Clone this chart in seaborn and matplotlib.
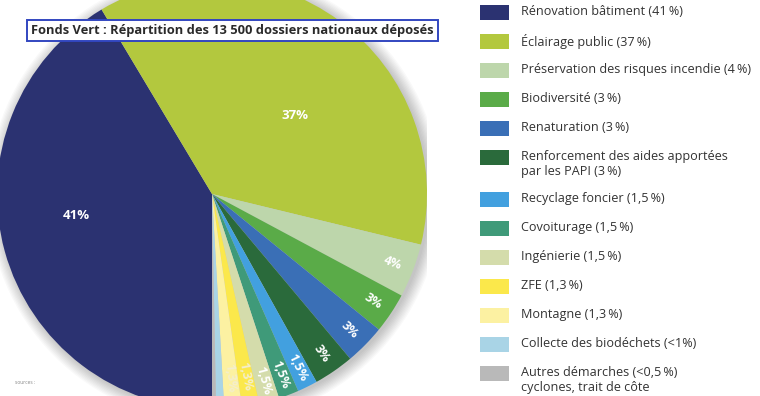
import matplotlib.pyplot as plt
import numpy as np
import seaborn as sns
from matplotlib.patches import Circle, Rectangle

# Fonds Vert: share of the 13 500 national applications
categories = [
    "Rénovation bâtiment (41\u2009%)",
    "Éclairage public (37\u2009%)",
    "Préservation des risques incendie (4\u2009%)",
    "Biodiversité (3\u2009%)",
    "Renaturation (3\u2009%)",
    "Renforcement des aides apportées\npar les PAPI (3\u2009%)",
    "Recyclage foncier (1,5\u2009%)",
    "Covoiturage (1,5\u2009%)",
    "Ingénierie (1,5\u2009%)",
    "ZFE (1,3\u2009%)",
    "Montagne (1,3\u2009%)",
    "Collecte des biodéchets (<1%)",
    "Autres démarches (<0,5\u2009%)\ncyclones, trait de côte",
]
shares = [41, 37, 4, 3, 3, 3, 1.5, 1.5, 1.5, 1.3, 1.3, 0.6, 0.3]
pct_labels = ["41%", "37%", "4%", "3%", "3%", "3%", "1,5%", "1,5%", "1,5%",
              "1,3%", "1,3%", "", ""]
colors = ["#2b3271", "#b3c83e", "#bdd6ab", "#5aab48", "#3a6fb6", "#2a6a3b",
          "#42a0df", "#3f9a79", "#d4dcab", "#fbe84b", "#fcf1a2", "#a9d4e6",
          "#b9b9b9"]

sns.set_theme(style="white")
plt.rcParams["font.family"] = ["Open Sans", "DejaVu Sans"]

W, H = 760, 396
fig = plt.figure(figsize=(W / 100, H / 100), dpi=100)
fig.patch.set_facecolor("white")

# pie centre and radius in pixels
cx, cy, r = 212, 194, 215
ax = fig.add_axes([(cx - r) / W, (H - cy - r) / H, 2 * r / W, 2 * r / H])

# soft shadow around the pie
for k in range(10):
    ax.add_patch(Circle((0.012, -0.01), 1 + 0.006 * k, color="black",
                        alpha=0.025, lw=0, zorder=0))

wedges, _ = ax.pie(shares, colors=sns.color_palette(colors), startangle=270,
                   counterclock=False, radius=1,
                   wedgeprops=dict(linewidth=0, zorder=2))
ax.set_xlim(-1, 1)
ax.set_ylim(-1, 1)
ax.set_aspect("equal")
ax.axis("off")

for i, (w, lab) in enumerate(zip(wedges, pct_labels)):
    if not lab:
        continue
    mid = np.deg2rad((w.theta1 + w.theta2) / 2)
    if i < 2:
        dist, shift = (0.64, -6.5) if i == 0 else (0.53, -10)
        ang = mid + np.deg2rad(shift)
        ax.text(dist * np.cos(ang), dist * np.sin(ang), lab, color="white",
                fontsize=9.5, fontweight="bold", ha="center", va="center",
                zorder=5)
    else:
        deg = np.rad2deg(mid)
        deg = (deg + 180) % 360 - 180
        col = "#f4eecb" if i >= 9 else "white"
        dist = 0.86 if i >= 9 else 0.9
        ax.text(dist * np.cos(mid), dist * np.sin(mid), lab, color=col,
                fontsize=9, fontweight="bold", ha="center", va="center",
                rotation=deg, rotation_mode="anchor", zorder=5)

# title box
fig.text(232.5 / W, 1 - 30.5 / H,
         "Fonds Vert : Répartition des 13 500 dossiers nationaux déposés",
         ha="center", va="center", fontsize=9.3, fontweight="bold",
         color="#2a2a2a",
         bbox=dict(boxstyle="square,pad=0.3", facecolor="white",
                   edgecolor="#3246c0", linewidth=1.4))

fig.text(15 / W, 1 - 383 / H, "sources :", fontsize=3.5, color="#888888",
         va="center")

# legend
n_two = 0
for i, (lab, col) in enumerate(zip(categories, colors)):
    yc = 12.5 + 29 * i + 13 * n_two
    fig.patches.append(Rectangle((480 / W, 1 - (yc + 7.5) / H), 29 / W,
                                 15 / H, transform=fig.transFigure,
                                 facecolor=col, edgecolor="none"))
    fig.text(521 / W, 1 - (yc - 7.5) / H, lab, fontsize=9.1, color="#333333",
             va="top", ha="left", linespacing=1.2)
    if "\n" in lab:
        n_two += 1

fig.savefig("out.png", dpi=100, facecolor="white")
